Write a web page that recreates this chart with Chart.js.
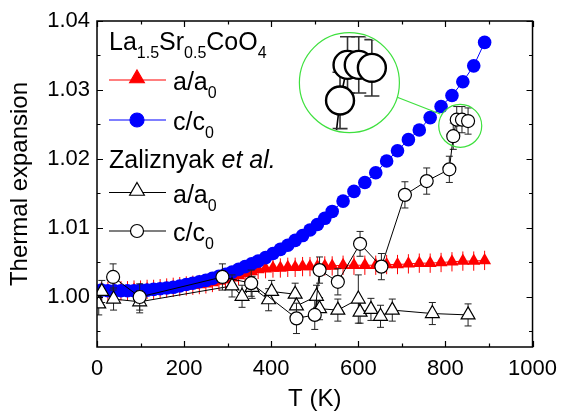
<!DOCTYPE html>
<html>
<head>
<meta charset="utf-8">
<script src="https://cdn.jsdelivr.net/npm/chart.js@4.4.1/dist/chart.umd.min.js"></script>
<style>
  html, body { margin: 0; padding: 0; background: #ffffff; }
  #wrap { width: 566px; height: 414px; }
</style>
</head>
<body>
<div id="wrap"><canvas id="chart" width="566" height="414"></canvas></div>
<script>
// ---- La1.5Sr0.5CoO4: lattice parameters relative to their low-T values ----
const temps = [10, 25, 40, 55, 70, 85, 100, 115, 130, 145, 160, 175, 190, 205, 220, 235, 250, 265, 280, 295,
  310, 325, 340, 355, 370, 387, 404, 421, 438, 455, 472, 489, 506, 523, 540, 565, 590, 615, 640, 665,
  690, 715, 740, 765, 790, 815, 840, 865, 890];
const cRatio = [1.0010, 1.0009, 1.0009, 1.0009, 1.0009, 1.0009, 1.0010, 1.0010, 1.0011, 1.0012, 1.0013, 1.0014,
  1.0016, 1.0018, 1.0020, 1.0022, 1.0024, 1.0027, 1.0030, 1.0033, 1.0036, 1.0040, 1.0044, 1.0048, 1.0052,
  1.0057, 1.0063, 1.0069, 1.0075, 1.0082, 1.0089, 1.0097, 1.0105, 1.0114, 1.0124, 1.0139, 1.0153, 1.0166,
  1.0180, 1.0197, 1.0212, 1.0228, 1.0242, 1.0260, 1.0276, 1.0292, 1.0312, 1.0335, 1.0369];
const aRatio = [1.0008, 1.0008, 1.0009, 1.0009, 1.0009, 1.0010, 1.0010, 1.0011, 1.0011, 1.0012, 1.0013, 1.0014,
  1.0015, 1.0016, 1.0017, 1.0018, 1.0019, 1.0021, 1.0023, 1.0025, 1.0028, 1.0031, 1.0034, 1.0037, 1.0040,
  1.0041, 1.0042, 1.0042, 1.0043, 1.0043, 1.0044, 1.0044, 1.0044, 1.0045, 1.0045, 1.0046, 1.0046, 1.0046,
  1.0046, 1.0047, 1.0047, 1.0048, 1.0049, 1.0049, 1.0050, 1.0051, 1.0052, 1.0052, 1.0053];
const aRatioErr = 0.0014;

// ---- Zaliznyak et al. ----
const zTempsA = [4, 11, 38, 98, 310, 333, 356, 394, 401, 455, 458, 504, 511, 553, 600, 604, 629, 651, 678, 770, 852];
const zA = [0.9990, 1.0008, 0.9997, 0.9993, 1.0016, 1.0001, 1.0014, 0.9996, 1.0008, 1.0004, 0.9987, 1.0001,
  0.9983, 0.9981, 0.9997, 0.9978, 0.9982, 0.9972, 0.9981, 0.9976, 0.9974];
const zAErr = [0.0016, 0.0016, 0.0016, 0.0016, 0.0016, 0.0016, 0.0016, 0.0016, 0.0016, 0.0016, 0.0016, 0.0016,
  0.0016, 0.0016, 0.0035, 0.0016, 0.0016, 0.0016, 0.0016, 0.0016, 0.0016];

const zTempsC = [37, 98, 288, 354, 458, 500, 511, 553, 604, 653, 707, 757, 809, 818, 826, 838, 852];
const zC = [1.0029, 1.0000, 1.0029, 1.0020, 0.9969, 0.9974, 1.0039, 1.0022, 1.0077, 1.0044, 1.0148, 1.0168,
  1.0185, 1.0233, 1.0257, 1.0257, 1.0255];
const zCErr = [0.0019, 0.0019, 0.0019, 0.0019, 0.0022, 0.0021, 0.0019, 0.0019, 0.0018, 0.0019, 0.0019, 0.0019,
  0.0019, 0.0019, 0.0019, 0.0019, 0.0019];

// ---- axis ticks ----
const xTicks = [0, 200, 400, 600, 800, 1000];
const yTicks = [1.00, 1.01, 1.02, 1.03, 1.04];

const FONT = '"Liberation Sans", Arial, Helvetica, sans-serif';
const pts = (xs, ys) => xs.map((x, i) => ({ x: x, y: ys[i] }));

// error bars are drawn just before the dataset they belong to
const errorBars = {
  id: 'errorBars',
  beforeDatasetDraw(chart, args) {
    const ds = chart.data.datasets[args.index];
    if (!ds.errors) return;
    const { ctx, scales: { x, y } } = chart;
    ctx.save();
    ctx.beginPath();
    ctx.rect(chart.chartArea.left, chart.chartArea.top, chart.chartArea.right - chart.chartArea.left,
      chart.chartArea.bottom - chart.chartArea.top);
    ctx.clip();
    ctx.strokeStyle = ds.errorColor;
    ctx.lineWidth = 1;
    ds.data.forEach((p, i) => {
      const e = Array.isArray(ds.errors) ? ds.errors[i] : ds.errors;
      const px = x.getPixelForValue(p.x);
      const y1 = y.getPixelForValue(p.y + e);
      const y2 = y.getPixelForValue(p.y - e);
      ctx.beginPath();
      ctx.moveTo(px, y1); ctx.lineTo(px, y2);
      if (ds.errorCap) {
        ctx.moveTo(px - ds.errorCap, y1); ctx.lineTo(px + ds.errorCap, y1);
        ctx.moveTo(px - ds.errorCap, y2); ctx.lineTo(px + ds.errorCap, y2);
      }
      ctx.stroke();
    });
    ctx.restore();
  }
};

// plot frame with inward major/minor ticks on all four sides
const frame = {
  id: 'frame',
  afterDatasetsDraw(chart) {
    const { ctx, chartArea: a, scales: { x, y } } = chart;
    ctx.save();
    ctx.strokeStyle = '#000';
    ctx.lineWidth = 1.5;
    ctx.strokeRect(a.left, a.top, a.right - a.left, a.bottom - a.top);
    ctx.lineWidth = 1.2;
    ctx.beginPath();
    for (let v = 0; v <= 1000; v += 100) {
      const px = Math.round(x.getPixelForValue(v)) + 0.5;
      const len = v % 200 === 0 ? 6 : 3.5;
      ctx.moveTo(px, a.bottom); ctx.lineTo(px, a.bottom - len);
      ctx.moveTo(px, a.top); ctx.lineTo(px, a.top + len);
    }
    for (let k = 199; k <= 208; k++) {
      const v = k * 0.005;
      if (v < y.min || v > y.max + 1e-9) continue;
      const py = Math.round(y.getPixelForValue(v)) + 0.5;
      const len = k % 2 === 0 ? 6 : 3.5;
      ctx.moveTo(a.left, py); ctx.lineTo(a.left + len, py);
      ctx.moveTo(a.right, py); ctx.lineTo(a.right - len, py);
    }
    ctx.stroke();
    ctx.restore();
  }
};

// magnified view of the high-temperature c/c0 cluster
const magnifier = {
  id: 'magnifier',
  afterDatasetsDraw(chart, args, opts) {
    const { ctx, scales: { x, y } } = chart;
    const ds = chart.data.datasets[opts.datasetIndex];
    const fx = x.getPixelForValue(opts.focus.x), fy = y.getPixelForValue(opts.focus.y);
    const sx = x.getPixelForValue(opts.spot.x), sy = y.getPixelForValue(opts.spot.y);
    const hx = x.getPixelForValue(opts.home.x), hy = y.getPixelForValue(opts.home.y);
    const m = opts.mag;
    ctx.save();
    ctx.strokeStyle = opts.color;
    ctx.lineWidth = 1.2;
    // small ring around the cluster
    ctx.beginPath(); ctx.arc(sx, sy, opts.spotR, 0, Math.PI * 2); ctx.stroke();
    // connector between the rings
    const dx = sx - hx, dy = sy - hy, d = Math.hypot(dx, dy);
    ctx.beginPath();
    ctx.moveTo(hx + dx / d * opts.homeR, hy + dy / d * opts.homeR - 4);
    ctx.lineTo(sx - dx / d * opts.spotR, sy - dy / d * opts.spotR - 4);
    ctx.stroke();
    // big ring
    ctx.beginPath(); ctx.arc(hx, hy, opts.homeR, 0, Math.PI * 2);
    ctx.fillStyle = '#fff'; ctx.fill(); ctx.stroke();
    ctx.save();
    ctx.beginPath(); ctx.arc(hx, hy, opts.homeR - 1, 0, Math.PI * 2); ctx.clip();
    const map = p => ({
      x: hx + (x.getPixelForValue(p.x) - fx) * m,
      y: hy + (y.getPixelForValue(p.y) - fy) * m,
      e1: hy + (y.getPixelForValue(p.y + p.e) - fy) * m,
      e2: hy + (y.getPixelForValue(p.y - p.e) - fy) * m
    });
    const q = ds.data.map((p, i) => map({ x: p.x, y: p.y, e: ds.errors[i] }));
    ctx.strokeStyle = '#000';
    ctx.lineWidth = 1.6;
    ctx.beginPath();
    q.forEach((p, i) => { if (i === 0) ctx.moveTo(p.x, p.y); else ctx.lineTo(p.x, p.y); });
    ctx.stroke();
    ctx.strokeStyle = '#333';
    q.forEach(p => {
      const cw = ds.errorCap * m;
      ctx.beginPath();
      ctx.moveTo(p.x, p.e1); ctx.lineTo(p.x, p.e2);
      ctx.moveTo(p.x - cw, p.e1); ctx.lineTo(p.x + cw, p.e1);
      ctx.moveTo(p.x - cw, p.e2); ctx.lineTo(p.x + cw, p.e2);
      ctx.stroke();
    });
    ctx.strokeStyle = '#000';
    ctx.lineWidth = 2.4;
    ctx.fillStyle = '#fff';
    q.forEach(p => {
      ctx.beginPath(); ctx.arc(p.x, p.y, ds.pointRadius * m, 0, Math.PI * 2);
      ctx.fill(); ctx.stroke();
    });
    ctx.restore();
    ctx.restore();
  }
};

// legend with chemical subscripts and italic text
function drawRich(ctx, x, y, parts, size) {
  let cx = x;
  parts.forEach(p => {
    const fs = p.sub ? Math.round(size * 0.64) : size;
    ctx.font = (p.it ? 'italic ' : '') + fs + 'px ' + FONT;
    ctx.fillText(p.t, cx, y + (p.sub ? size * 0.33 : 0));
    cx += ctx.measureText(p.t).width;
  });
}
const legendBox = {
  id: 'legendBox',
  afterDraw(chart) {
    const ctx = chart.ctx;
    const H = Chart.helpers;
    const size = 25;
    const x0 = 109, x1 = 166, xm = 137, xt = 173;
    ctx.save();
    ctx.fillStyle = '#000';
    ctx.textBaseline = 'alphabetic';
    ctx.textAlign = 'left';
    drawRich(ctx, x0, 50, [{ t: 'La' }, { t: '1.5', sub: true }, { t: 'Sr' }, { t: '0.5', sub: true },
      { t: 'CoO' }, { t: '4', sub: true }], size);
    drawRich(ctx, x0, 168, [{ t: 'Zaliznyak ' }, { t: 'et al.', it: true }], size);
    const rows = [
      { y: 80, color: '#ff0000', style: 'triangle', r: 8.5, fill: '#ff0000', lbl: ['a/a', '0'] },
      { y: 120, color: '#0000ff', style: 'circle', r: 7, fill: '#0000ff', lbl: ['c/c', '0'] },
      { y: 192.5, color: '#000', style: 'triangle', r: 8.5, fill: '#fff', lbl: ['a/a', '0'] },
      { y: 231, color: '#000', style: 'circle', r: 6.5, fill: '#fff', lbl: ['c/c', '0'] }
    ];
    rows.forEach(r => {
      ctx.strokeStyle = r.color;
      ctx.lineWidth = 1.2;
      ctx.beginPath(); ctx.moveTo(x0, r.y); ctx.lineTo(x1, r.y); ctx.stroke();
      ctx.fillStyle = r.fill;
      ctx.strokeStyle = r.color;
      ctx.lineWidth = 1.2;
      H.drawPoint(ctx, { pointStyle: r.style, radius: r.r, borderWidth: 1.2, rotation: 0 }, xm,
        r.style === 'triangle' ? r.y - 1.5 : r.y);
      ctx.fillStyle = '#000';
      drawRich(ctx, xt, r.y + 10, [{ t: r.lbl[0] }, { t: r.lbl[1], sub: true }], size);
    });
    ctx.restore();
  }
};

const chart = new Chart(document.getElementById('chart'), {
  type: 'scatter',
  data: {
    datasets: [
      {
        label: 'c/c0 (Zaliznyak et al.)',
        data: pts(zTempsC, zC),
        errors: zCErr, errorColor: '#222', errorCap: 3.5,
        showLine: true, borderColor: '#000', borderWidth: 1,
        pointStyle: 'circle', pointRadius: 6.5, pointBackgroundColor: '#fff',
        pointBorderColor: '#000', pointBorderWidth: 1.2, order: 0
      },
      {
        label: 'a/a0 (Zaliznyak et al.)',
        data: pts(zTempsA, zA),
        errors: zAErr, errorColor: '#222', errorCap: 3.5,
        showLine: true, borderColor: '#000', borderWidth: 1,
        pointStyle: 'triangle', pointRadius: 8, pointBackgroundColor: '#fff',
        pointBorderColor: '#000', pointBorderWidth: 1.2, order: 1
      },
      {
        label: 'c/c0',
        data: pts(temps, cRatio),
        showLine: true, borderColor: '#0000ff', borderWidth: 1,
        pointStyle: 'circle', pointRadius: 6.8, pointBackgroundColor: '#0000ff',
        pointBorderColor: '#0000ff', pointBorderWidth: 0, order: 2
      },
      {
        label: 'a/a0',
        data: pts(temps, aRatio),
        errors: aRatioErr, errorColor: '#ff0000', errorCap: 0,
        showLine: true, borderColor: '#ff0000', borderWidth: 1,
        pointStyle: 'triangle', pointRadius: 7.5, pointBackgroundColor: '#ff0000',
        pointBorderColor: '#ff0000', pointBorderWidth: 0, order: 3
      }
    ]
  },
  options: {
    responsive: false,
    devicePixelRatio: 1,
    animation: false,
    layout: { padding: { left: 0, right: 29, top: 21, bottom: 0 } },
    plugins: {
      legend: { display: false },
      tooltip: { enabled: false },
      magnifier: {
        datasetIndex: 0,
        focus: { x: 828, y: 1.0245 },
        spot: { x: 834, y: 1.02481 },
        home: { x: 579.5, y: 1.03106 },
        spotR: 21.5, homeR: 50, mag: 2.15, color: '#3ee03e'
      }
    },
    scales: {
      x: {
        type: 'linear', min: 0, max: 1000,
        afterBuildTicks: s => { s.ticks = xTicks.map(v => ({ value: v })); },
        afterFit: s => { s.height = 67; },
        grid: { display: false, drawTicks: false },
        border: { display: false },
        ticks: { color: '#000', font: { family: FONT, size: 22 }, padding: 9, maxRotation: 0,
          callback: v => String(v) },
        title: { display: true, text: 'T (K)', color: '#000', font: { family: FONT, size: 24 },
          padding: { top: 2, bottom: 0 } }
      },
      y: {
        type: 'linear', min: 0.99275, max: 1.04,
        afterBuildTicks: s => { s.ticks = yTicks.map(v => ({ value: v })); },
        afterFit: s => { s.width = 97; },
        grid: { display: false, drawTicks: false },
        border: { display: false },
        ticks: { color: '#000', font: { family: FONT, size: 22 }, padding: 7,
          callback: v => Number(v).toFixed(2) },
        title: { display: true, text: 'Thermal expansion', color: '#000', font: { family: FONT, size: 24 },
          padding: { top: 6, bottom: 0 } }
      }
    }
  },
  plugins: [errorBars, frame, magnifier, legendBox]
});
</script>
</body>
</html>
